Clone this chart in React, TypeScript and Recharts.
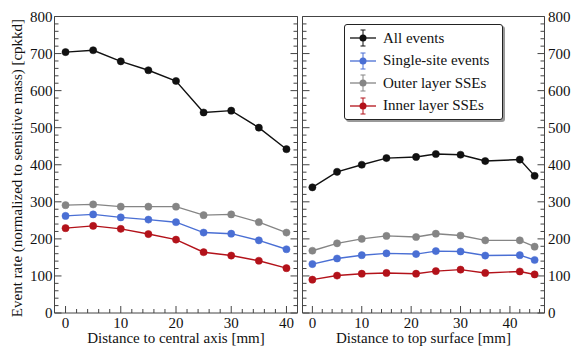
import React from 'react';
import { LineChart, Line, XAxis, YAxis, ReferenceArea, Legend } from 'recharts';

// left panel: distance to central axis [mm]
const axisDist = [0, 5, 10, 15, 20, 25, 30, 35, 40];
const axisAll = [704, 709, 679, 655, 626, 541, 546, 500, 442];
const axisSingle = [262, 266, 258, 252, 245, 217, 214, 196, 172];
const axisOuter = [291, 293, 287, 287, 287, 264, 266, 245, 217];
const axisInner = [229, 235, 227, 213, 198, 164, 155, 141, 121];

// right panel: distance to top surface [mm]
const topDist = [0, 5, 10, 15, 21, 25, 30, 35, 42, 45];
const topAll = [339, 381, 400, 418, 421, 429, 427, 410, 414, 370];
const topSingle = [132, 147, 156, 161, 159, 167, 166, 155, 156, 143];
const topOuter = [168, 188, 200, 208, 205, 214, 209, 196, 196, 179];
const topInner = [90, 101, 106, 108, 106, 113, 117, 108, 112, 104];

const seriesNames = ['All events', 'Single-site events', 'Outer layer SSEs', 'Inner layer SSEs'];
const seriesKeys = ['all', 'single', 'outer', 'inner'];
const yTicks = Array.from({ length: 41 }, (_, i) => i * 20);
const leftXTicks = Array.from({ length: 21 }, (_, i) => i * 2);
const rightXTicks = Array.from({ length: 24 }, (_, i) => i * 2);

const leftData = axisDist.map((d, i) => ({
  d, all: axisAll[i], single: axisSingle[i], outer: axisOuter[i], inner: axisInner[i],
}));
const rightData = topDist.map((d, i) => ({
  d, all: topAll[i], single: topSingle[i], outer: topOuter[i], inner: topInner[i],
}));

const COLORS = ['#111111', '#4a6fd4', '#858585', '#b3121a'];
const FRAME = '#444';
const FONT = "'Liberation Serif', 'Times New Roman', Times, Tinos, 'DejaVu Serif', serif";

const H = 349;
const TOP = 16.5;
const BOTTOM = 313;
const XAXIS_H = H - BOTTOM;

function makeYTick(left: number, right: number, side: 'left' | 'right') {
  return (p: any) => {
    const v = p.payload.value;
    const major = v % 100 === 0;
    const len = major ? 7 : 4;
    return (
      <g>
        <line x1={left} x2={left + len} y1={p.y} y2={p.y} stroke={FRAME} />
        <line x1={right - len} x2={right} y1={p.y} y2={p.y} stroke={FRAME} />
        {major && (
          <text
            x={side === 'left' ? left - 2 : right + 3.5}
            y={p.y}
            dy="0.35em"
            textAnchor={side === 'left' ? 'end' : 'start'}
            style={{ fontFamily: FONT, fontSize: 15 }}
            fill="#111"
          >
            {v}
          </text>
        )}
      </g>
    );
  };
}

function makeXTick() {
  return (p: any) => {
    const v = p.payload.value;
    const major = v % 10 === 0;
    const len = major ? 7 : 4;
    return (
      <g>
        <line x1={p.x} x2={p.x} y1={BOTTOM} y2={BOTTOM - len} stroke={FRAME} />
        {major && (
          <text x={p.x} y={BOTTOM + 10} dy="0.35em" textAnchor="middle" style={{ fontFamily: FONT, fontSize: 15 }} fill="#111">
            {v}
          </text>
        )}
      </g>
    );
  };
}

const LegendContent = (props: any) => {
  const items = props.payload || [];
  const ordered = seriesNames.map((n) => items.find((it: any) => it.value === n)).filter(Boolean);
  return (
    <div
      style={{
        width: 159,
        height: 96,
        boxSizing: 'border-box',
        border: '1px solid #222',
        borderRadius: 3,
        background: '#fff',
        boxShadow: '2px 2px 0 #999',
        paddingTop: 2,
        fontFamily: FONT,
        fontSize: 15,
        color: '#111',
      }}
    >
      {ordered.map((it: any) => (
        <div key={it.value} style={{ display: 'flex', alignItems: 'center', height: 22.5 }}>
          <svg width={37} height={22} style={{ flex: 'none' }}>
            <line x1={5} x2={31} y1={11} y2={11} stroke={it.color} strokeWidth={1.3} />
            <line x1={18} x2={18} y1={3} y2={19} stroke={it.color} strokeWidth={1} />
            <line x1={15.5} x2={20.5} y1={3} y2={3} stroke={it.color} strokeWidth={1} />
            <line x1={15.5} x2={20.5} y1={19} y2={19} stroke={it.color} strokeWidth={1} />
            <circle cx={18} cy={11} r={3.5} fill={it.color} />
          </svg>
          <span style={{ marginLeft: 1, whiteSpace: 'nowrap' }}>{it.value}</span>
        </div>
      ))}
    </div>
  );
};

interface PanelProps {
  data: any[];
  width: number;
  plotLeft: number;
  plotRight: number;
  side: 'left' | 'right';
  xDomain: [number, number];
  xTicks: number[];
  xTitle: string;
  showLegend?: boolean;
}

function Panel({ data, width, plotLeft, plotRight, side, xDomain, xTicks, xTitle, showLegend }: PanelProps) {
  const yWidth = side === 'left' ? plotLeft : width - plotRight;
  const margin = side === 'left'
    ? { top: TOP, right: width - plotRight, bottom: 0, left: 0 }
    : { top: TOP, right: 0, bottom: 0, left: plotLeft };
  const cx = (plotLeft + plotRight) / 2;
  return (
    <LineChart width={width} height={H} data={data} margin={margin}>
      <XAxis
        dataKey="d"
        type="number"
        domain={xDomain}
        allowDataOverflow
        ticks={xTicks}
        interval={0}
        height={XAXIS_H}
        axisLine={false}
        tickLine={false}
        tickSize={0}
        tick={makeXTick()}
        label={() => (
          <text x={cx} y={338} dy="0.35em" textAnchor="middle" style={{ fontFamily: FONT, fontSize: 15 }} fill="#111">
            {xTitle}
          </text>
        )}
      />
      <YAxis
        orientation={side}
        type="number"
        domain={[0, 800]}
        allowDataOverflow
        ticks={yTicks}
        interval={0}
        width={yWidth}
        axisLine={false}
        tickLine={false}
        tickSize={0}
        tick={makeYTick(plotLeft, plotRight, side)}
        label={
          side === 'left'
            ? () => (
                <text
                  x={16.5}
                  y={168}
                  dy="0.35em"
                  textAnchor="middle"
                  transform="rotate(-90 16.5 168)"
                  style={{ fontFamily: FONT, fontSize: 15 }}
                  fill="#111"
                >
                  Event rate (normalized to sensitive mass) [cpkkd]
                </text>
              )
            : undefined
        }
      />
      <ReferenceArea x1={xDomain[0]} x2={xDomain[1]} y1={0} y2={800} fill="none" stroke={FRAME} strokeWidth={1} />
      {seriesKeys.map((k, i) => (
        <Line
          key={k}
          dataKey={k}
          name={seriesNames[i]}
          type="linear"
          stroke={COLORS[i]}
          strokeWidth={1.4}
          dot={{ r: 3.6, fill: COLORS[i], stroke: COLORS[i], strokeWidth: 0.5 }}
          isAnimationActive={false}
        />
      ))}
      {showLegend && (
        <Legend
          layout="horizontal"
          verticalAlign="middle"
          align="center"
          wrapperStyle={{ left: 44, top: 24, width: 159, height: 96 }}
          content={<LegendContent />}
        />
      )}
    </LineChart>
  );
}

export default function App() {
  return (
    <div style={{ position: 'absolute', left: 0, top: 0, width: 573, height: 349, background: '#fff' }}>
      <div style={{ position: 'absolute', left: 0, top: 0 }}>
        <Panel
          data={leftData}
          width={300}
          plotLeft={54.5}
          plotRight={297.5}
          side="left"
          xDomain={[-2, 42]}
          xTicks={leftXTicks}
          xTitle="Distance to central axis [mm]"
        />
      </div>
      <div style={{ position: 'absolute', left: 300, top: 0 }}>
        <Panel
          data={rightData}
          width={273}
          plotLeft={2.5}
          plotRight={244.5}
          side="right"
          xDomain={[-2, 47]}
          xTicks={rightXTicks}
          xTitle="Distance to top surface [mm]"
          showLegend
        />
      </div>
    </div>
  );
}
